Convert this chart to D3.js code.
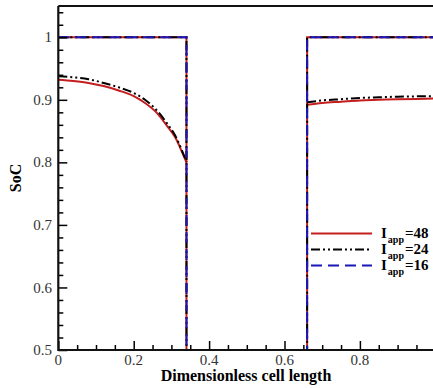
<!DOCTYPE html>
<html>
<head>
<meta charset="utf-8">
<script src="https://cdn.jsdelivr.net/npm/d3@7"></script>
<style>
  body { margin: 0; background: #fff; }
</style>
</head>
<body>
<svg id="chart"></svg>
<script>
// separator region boundaries (dimensionless)
const sepStart = 0.34
const sepEnd = 0.66

// left electrode curves
const xLeft = [0, 0.04, 0.08, 0.12, 0.16, 0.2, 0.23, 0.26, 0.29, 0.31, 0.33, 0.34]
const soc48Left = [0.932, 0.930, 0.927, 0.922, 0.915, 0.906, 0.895, 0.880, 0.857, 0.840, 0.814, 0.800]
const soc24Left = [0.938, 0.936, 0.933, 0.927, 0.920, 0.911, 0.900, 0.884, 0.861, 0.843, 0.816, 0.801]

// right electrode curves
const xRight = [0.66, 0.7, 0.75, 0.8, 0.85, 0.9, 0.95, 1.0]
const soc48Right = [0.892, 0.895, 0.897, 0.899, 0.900, 0.901, 0.9015, 0.902]
const soc24Right = [0.896, 0.899, 0.901, 0.903, 0.904, 0.905, 0.9055, 0.906]

// step outline at SoC = 1, dropping through the separator
const edgeLeft = [[0, 1], [sepStart, 1], [sepStart, 0]]
const edgeRight = [[sepEnd, 0], [sepEnd, 1], [1, 1]]

const legendLabels = ["48", "24", "16"]
const xTicks = [0, 0.2, 0.4, 0.6, 0.8]
const yTicks = [0.5, 0.6, 0.7, 0.8, 0.9, 1]

const series = [
  { label: legendLabels[0], color: "#c41e1e", dash: null, left: soc48Left, right: soc48Right },
  { label: legendLabels[1], color: "#000", dash: "9,3,2,3,2,3", left: soc24Left, right: soc24Right },
  { label: legendLabels[2], color: "#1818b8", dash: "11,6", left: null, right: null }
]

const width = 433, height = 388
const margin = { top: 6, left: 58.3, bottom: 350 }
const serif = "'Liberation Serif', 'Times New Roman', Times, serif"

const svg = d3.select("#chart").attr("width", width).attr("height", height)
  .attr("font-family", serif)

const x = d3.scaleLinear().domain([0, 1]).range([margin.left, margin.left + 377])
const y = d3.scaleLinear().domain([0.5, 1.05]).range([margin.bottom, margin.top])

svg.append("clipPath").attr("id", "clip")
  .append("rect")
  .attr("x", x(0)).attr("y", y(1.05))
  .attr("width", x(1) - x(0)).attr("height", y(0.5) - y(1.05))

const line = d3.line().x(d => x(d[0])).y(d => y(d[1]))
const curve = d3.line().x(d => x(d[0])).y(d => y(d[1])).curve(d3.curveMonotoneX)
const plot = svg.append("g").attr("clip-path", "url(#clip)")

series.forEach(s => {
  const paths = [[edgeLeft, line], [edgeRight, line]]
  if (s.left) paths.push([xLeft.map((v, i) => [v, s.left[i]]), curve])
  if (s.right) paths.push([xRight.map((v, i) => [v, s.right[i]]), curve])
  paths.forEach(([p, gen]) => {
    plot.append("path")
      .attr("d", gen(p))
      .attr("fill", "none")
      .attr("stroke", s.color)
      .attr("stroke-width", 2)
      .attr("stroke-dasharray", s.dash)
  })
})

// axes: ticks point inward
const xAxis = svg.append("g").attr("transform", `translate(0,${margin.bottom})`)
xAxis.call(d3.axisBottom(x).tickValues(d3.range(0, 1.0001, 0.05)).tickSize(-5).tickFormat(""))
xAxis.call(g => g.selectAll(".tick line")
  .filter(d => xTicks.some(t => Math.abs(t - d) < 1e-6)).attr("y2", -9))
xAxis.selectAll(".tick line").attr("stroke-width", 1.5)
xAxis.select(".domain").remove()

const yAxis = svg.append("g").attr("transform", `translate(${margin.left},0)`)
yAxis.call(d3.axisLeft(y).tickValues(d3.range(0.5, 1.05, 0.02)).tickSize(-5).tickFormat(""))
yAxis.call(g => g.selectAll(".tick line")
  .filter(d => yTicks.some(t => Math.abs(t - d) < 1e-6)).attr("x2", 9))
yAxis.selectAll(".tick line").attr("stroke-width", 1.5)
yAxis.select(".domain").remove()

svg.selectAll(".xlab").data(xTicks).join("text")
  .attr("x", d => x(d)).attr("y", 365)
  .attr("text-anchor", "middle")
  .attr("font-size", 15).attr("fill", "#333")
  .text(d => d === 0 ? "0" : d3.format(".1f")(d))

svg.selectAll(".ylab").data(yTicks).join("text")
  .attr("x", 52).attr("y", d => y(d))
  .attr("dy", "0.34em")
  .attr("text-anchor", "end")
  .attr("font-size", 15).attr("fill", "#333")
  .text(d => d === 1 ? "1" : d3.format(".1f")(d))

// frame
svg.append("path")
  .attr("d", `M${x(0)},${y(1.05)}H${x(1) + 2}M${x(0)},${y(1.05)}V${y(0.5)}H${x(1) + 2}`)
  .attr("fill", "none").attr("stroke", "#111").attr("stroke-width", 2.2)

// axis titles
svg.append("text")
  .attr("x", 246).attr("y", 381)
  .attr("text-anchor", "middle")
  .attr("font-size", 16).attr("font-weight", "bold")
  .text("Dimensionless cell length")

svg.append("text")
  .attr("transform", `translate(21,${(y(0.5) + y(1.05)) / 2}) rotate(-90)`)
  .attr("text-anchor", "middle")
  .attr("font-size", 16).attr("font-weight", "bold")
  .text("SoC")

// legend
const legend = svg.append("g").attr("transform", "translate(311,233.5)")
series.forEach((s, i) => {
  const row = legend.append("g").attr("transform", `translate(0,${i * 16})`)
  row.append("line")
    .attr("x1", 0).attr("x2", 61)
    .attr("stroke", s.color).attr("stroke-width", 2)
    .attr("stroke-dasharray", s.dash)
  const t = row.append("text")
    .attr("x", 70).attr("y", 0).attr("dy", "0.32em")
    .attr("font-size", 15).attr("font-weight", "bold")
  t.append("tspan").text("I")
  t.append("tspan").attr("font-size", 10).attr("dx", 1).attr("dy", 4.5).text("app")
  t.append("tspan").attr("dx", 1).attr("dy", -4.5).text("=" + s.label)
})
</script>
</body>
</html>
